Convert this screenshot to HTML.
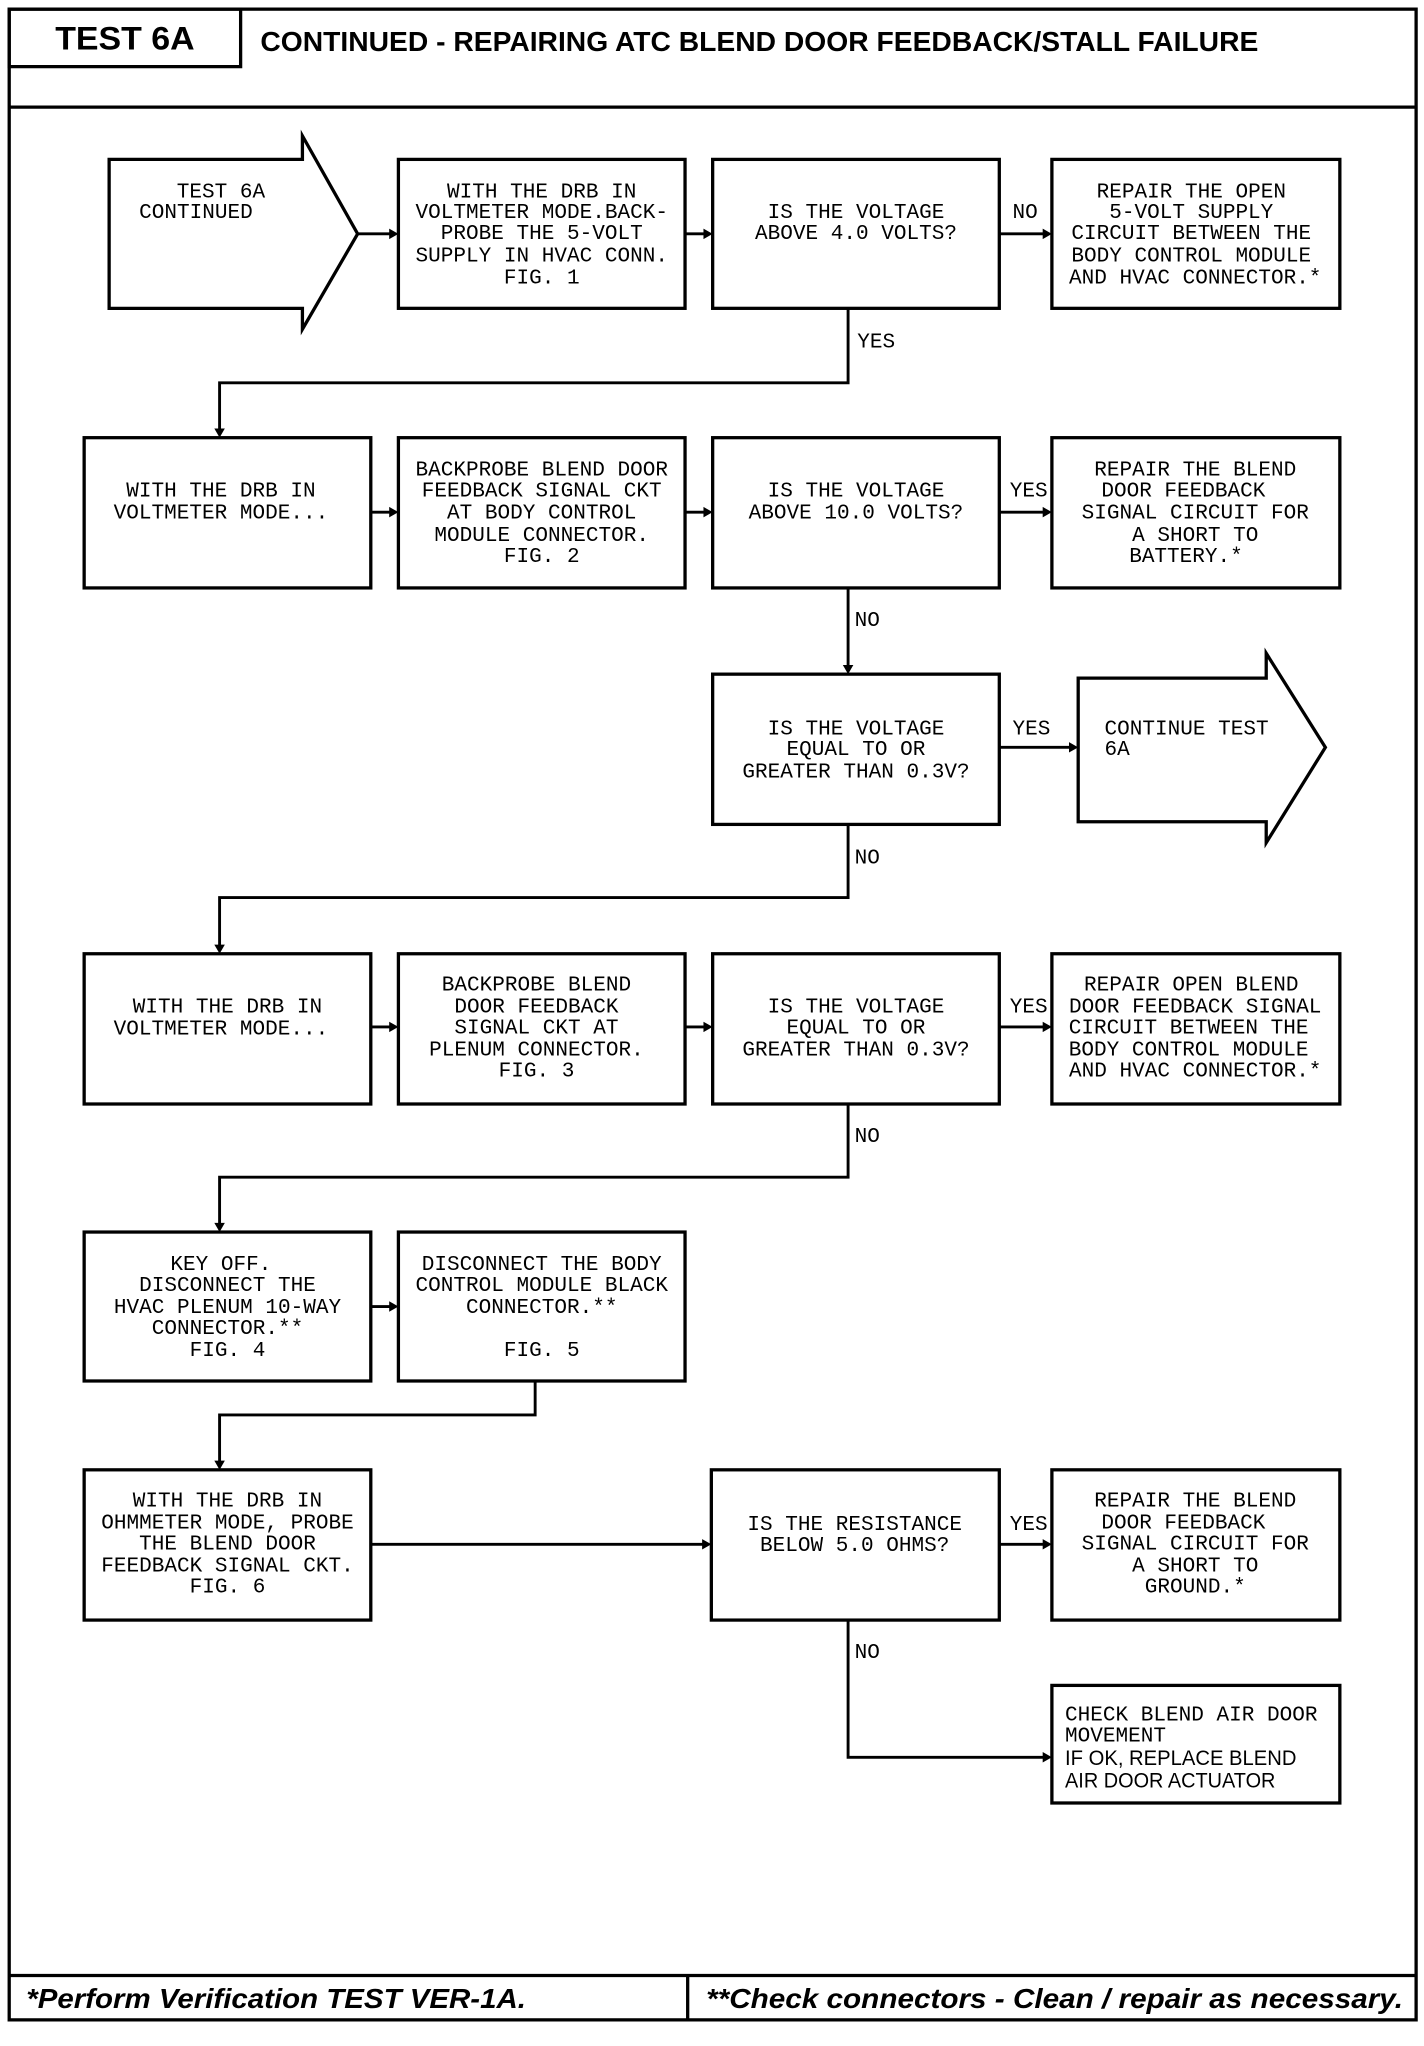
<!DOCTYPE html>
<html><head><meta charset="utf-8"><style>
html,body{margin:0;padding:0;background:#fff}
svg{display:block}
.t{font-family:"Liberation Mono",monospace;font-size:16px;fill:#000;text-anchor:middle}
.l{font-family:"Liberation Mono",monospace;font-size:16px;fill:#000}
.lb{font-family:"Liberation Sans",sans-serif;font-size:16px;fill:#000}
</style></head><body>
<svg width="1424" height="2046" viewBox="0 0 1083 1566" preserveAspectRatio="none" xmlns="http://www.w3.org/2000/svg">
<g fill="none" stroke="#000" stroke-width="2.5">
<rect x="7" y="7" width="1070" height="1539"/>
<rect x="7" y="7" width="176" height="44"/>
<line x1="7" y1="82" x2="1077" y2="82"/>
<line x1="7" y1="1512" x2="1077" y2="1512"/>
<line x1="523" y1="1512" x2="523" y2="1546"/>
<!-- row1 -->
<path d="M83 122 H230 V104 L272 179 L230 252 V236 H83 Z"/>
<rect x="303" y="122" width="218" height="114"/>
<rect x="542" y="122" width="218" height="114"/>
<rect x="800" y="122" width="219" height="114"/>
<!-- row2 -->
<rect x="64" y="335" width="218" height="115"/>
<rect x="303" y="335" width="218" height="115"/>
<rect x="542" y="335" width="218" height="115"/>
<rect x="800" y="335" width="219" height="115"/>
<!-- row3 -->
<rect x="542" y="516" width="218" height="115"/>
<path d="M820 519 H963 V500 L1008 572 L963 645 V629 H820 Z"/>
<!-- row4 -->
<rect x="64" y="730" width="218" height="115"/>
<rect x="303" y="730" width="218" height="115"/>
<rect x="542" y="730" width="218" height="115"/>
<rect x="800" y="730" width="219" height="115"/>
<!-- row5 -->
<rect x="64" y="943" width="218" height="114"/>
<rect x="303" y="943" width="218" height="114"/>
<!-- row6 -->
<rect x="64" y="1125" width="218" height="115"/>
<rect x="541" y="1125" width="219" height="115"/>
<rect x="800" y="1125" width="219" height="115"/>
<rect x="800" y="1290" width="219" height="90"/>
<!-- connectors -->
<g stroke-width="2.2">
<line x1="272" y1="179" x2="300" y2="179"/>
<line x1="521" y1="179" x2="539" y2="179"/>
<line x1="760" y1="179" x2="797" y2="179"/>
<polyline points="645,236 645,293 167,293 167,332"/>
<line x1="282" y1="392" x2="300" y2="392"/>
<line x1="521" y1="392" x2="539" y2="392"/>
<line x1="760" y1="392" x2="797" y2="392"/>
<line x1="645" y1="450" x2="645" y2="513"/>
<line x1="760" y1="572" x2="817" y2="572"/>
<polyline points="645,631 645,687 167,687 167,727"/>
<line x1="282" y1="786" x2="300" y2="786"/>
<line x1="521" y1="786" x2="539" y2="786"/>
<line x1="760" y1="786" x2="797" y2="786"/>
<polyline points="645,845 645,901 167,901 167,940"/>
<line x1="282" y1="1000" x2="300" y2="1000"/>
<polyline points="407,1057 407,1083 167,1083 167,1122"/>
<line x1="282" y1="1182" x2="538" y2="1182"/>
<line x1="760" y1="1182" x2="797" y2="1182"/>
<polyline points="645,1240 645,1345 797,1345"/>
</g>
</g>
<g fill="#000">
<path d="M303 179 l-7 -4 v8z"/><path d="M542 179 l-7 -4 v8z"/><path d="M800 179 l-7 -4 v8z"/>
<path d="M167 335 l-4 -7 h8z"/>
<path d="M303 392 l-7 -4 v8z"/><path d="M542 392 l-7 -4 v8z"/><path d="M800 392 l-7 -4 v8z"/>
<path d="M645 516 l-4 -7 h8z"/><path d="M820 572 l-7 -4 v8z"/>
<path d="M167 730 l-4 -7 h8z"/>
<path d="M303 786 l-7 -4 v8z"/><path d="M542 786 l-7 -4 v8z"/><path d="M800 786 l-7 -4 v8z"/>
<path d="M167 943 l-4 -7 h8z"/><path d="M303 1000 l-7 -4 v8z"/>
<path d="M167 1125 l-4 -7 h8z"/><path d="M541 1182 l-7 -4 v8z"/><path d="M800 1182 l-7 -4 v8z"/><path d="M800 1345 l-7 -4 v8z"/>
</g>
<!-- header -->
<text x="95" y="38" style="font-family:'Liberation Sans',sans-serif;font-weight:bold;font-size:25px" text-anchor="middle" textLength="106" lengthAdjust="spacingAndGlyphs">TEST 6A</text>
<text x="198" y="39" style="font-family:'Liberation Sans',sans-serif;font-weight:bold;font-size:21px" textLength="759" lengthAdjust="spacingAndGlyphs">CONTINUED - REPAIRING ATC BLEND DOOR FEEDBACK/STALL FAILURE</text>
<!-- footer -->
<text x="20" y="1537" style="font-family:'Liberation Sans',sans-serif;font-weight:bold;font-style:italic;font-size:21px" textLength="380" lengthAdjust="spacingAndGlyphs">*Perform Verification TEST VER-1A.</text>
<text x="537" y="1537" style="font-family:'Liberation Sans',sans-serif;font-weight:bold;font-style:italic;font-size:21px" textLength="530" lengthAdjust="spacingAndGlyphs">**Check connectors - Clean / repair as necessary.</text>
<!-- box texts -->
<text class="t" x="168" y="151">TEST 6A</text><text class="t" x="149" y="167">CONTINUED</text>
<text class="t" x="412" y="151">WITH THE DRB IN</text><text class="t" x="412" y="167">VOLTMETER MODE.BACK-</text><text class="t" x="412" y="183">PROBE THE 5-VOLT</text><text class="t" x="412" y="200">SUPPLY IN HVAC CONN.</text><text class="t" x="412" y="217">FIG. 1</text>
<text class="t" x="651" y="167">IS THE VOLTAGE</text><text class="t" x="651" y="183">ABOVE 4.0 VOLTS?</text>
<text class="t" x="906" y="151">REPAIR THE OPEN</text><text class="t" x="906" y="167">5-VOLT SUPPLY</text><text class="t" x="906" y="183">CIRCUIT BETWEEN THE</text><text class="t" x="906" y="200">BODY CONTROL MODULE</text><text class="t" x="909" y="217">AND HVAC CONNECTOR.*</text>
<text class="l" x="770" y="167">NO</text><text class="l" x="652" y="266">YES</text>
<text class="t" x="168" y="380">WITH THE DRB IN</text><text class="t" x="168" y="397">VOLTMETER MODE...</text>
<text class="t" x="412" y="364">BACKPROBE BLEND DOOR</text><text class="t" x="412" y="380">FEEDBACK SIGNAL CKT</text><text class="t" x="412" y="397">AT BODY CONTROL</text><text class="t" x="412" y="414">MODULE CONNECTOR.</text><text class="t" x="412" y="430">FIG. 2</text>
<text class="t" x="651" y="380">IS THE VOLTAGE</text><text class="t" x="651" y="397">ABOVE 10.0 VOLTS?</text>
<text class="t" x="909" y="364">REPAIR THE BLEND</text><text class="t" x="900" y="380">DOOR FEEDBACK</text><text class="t" x="909" y="397">SIGNAL CIRCUIT FOR</text><text class="t" x="909" y="414">A SHORT TO</text><text class="t" x="902" y="430">BATTERY.*</text>
<text class="l" x="768" y="380">YES</text><text class="l" x="650" y="479">NO</text>
<text class="t" x="651" y="562">IS THE VOLTAGE</text><text class="t" x="651" y="578">EQUAL TO OR</text><text class="t" x="651" y="595">GREATER THAN 0.3V?</text>
<text class="l" x="770" y="562">YES</text>
<text class="l" x="840" y="562">CONTINUE TEST</text><text class="l" x="840" y="578">6A</text>
<text class="l" x="650" y="661">NO</text>
<text class="t" x="173" y="775">WITH THE DRB IN</text><text class="t" x="168" y="792">VOLTMETER MODE...</text>
<text class="t" x="408" y="758">BACKPROBE BLEND</text><text class="t" x="408" y="775">DOOR FEEDBACK</text><text class="t" x="408" y="791">SIGNAL CKT AT</text><text class="t" x="408" y="808">PLENUM CONNECTOR.</text><text class="t" x="408" y="824">FIG. 3</text>
<text class="t" x="651" y="775">IS THE VOLTAGE</text><text class="t" x="651" y="791">EQUAL TO OR</text><text class="t" x="651" y="808">GREATER THAN 0.3V?</text>
<text class="t" x="906" y="758">REPAIR OPEN BLEND</text><text class="t" x="909" y="775">DOOR FEEDBACK SIGNAL</text><text class="t" x="904" y="791">CIRCUIT BETWEEN THE</text><text class="t" x="904" y="808">BODY CONTROL MODULE</text><text class="t" x="909" y="824">AND HVAC CONNECTOR.*</text>
<text class="l" x="768" y="775">YES</text><text class="l" x="650" y="874">NO</text>
<text class="t" x="168" y="972">KEY OFF.</text><text class="t" x="173" y="988">DISCONNECT THE</text><text class="t" x="173" y="1005">HVAC PLENUM 10-WAY</text><text class="t" x="173" y="1021">CONNECTOR.**</text><text class="t" x="173" y="1038">FIG. 4</text>
<text class="t" x="412" y="972">DISCONNECT THE BODY</text><text class="t" x="412" y="988">CONTROL MODULE BLACK</text><text class="t" x="412" y="1005">CONNECTOR.**</text><text class="t" x="412" y="1038">FIG. 5</text>
<text class="t" x="173" y="1153">WITH THE DRB IN</text><text class="t" x="173" y="1170">OHMMETER MODE, PROBE</text><text class="t" x="173" y="1186">THE BLEND DOOR</text><text class="t" x="173" y="1203">FEEDBACK SIGNAL CKT.</text><text class="t" x="173" y="1219">FIG. 6</text>
<text class="t" x="650" y="1171">IS THE RESISTANCE</text><text class="t" x="650" y="1187">BELOW 5.0 OHMS?</text>
<text class="t" x="909" y="1153">REPAIR THE BLEND</text><text class="t" x="900" y="1170">DOOR FEEDBACK</text><text class="t" x="909" y="1186">SIGNAL CIRCUIT FOR</text><text class="t" x="909" y="1203">A SHORT TO</text><text class="t" x="909" y="1219">GROUND.*</text>
<text class="l" x="768" y="1171">YES</text><text class="l" x="650" y="1269">NO</text>
<text class="l" x="810" y="1317">CHECK BLEND AIR DOOR</text><text class="l" x="810" y="1333">MOVEMENT</text>
<text class="lb" x="810" y="1351" textLength="176" lengthAdjust="spacingAndGlyphs">IF OK, REPLACE BLEND</text><text class="lb" x="810" y="1368" textLength="160" lengthAdjust="spacingAndGlyphs">AIR DOOR ACTUATOR</text>
</svg>
</body></html>
